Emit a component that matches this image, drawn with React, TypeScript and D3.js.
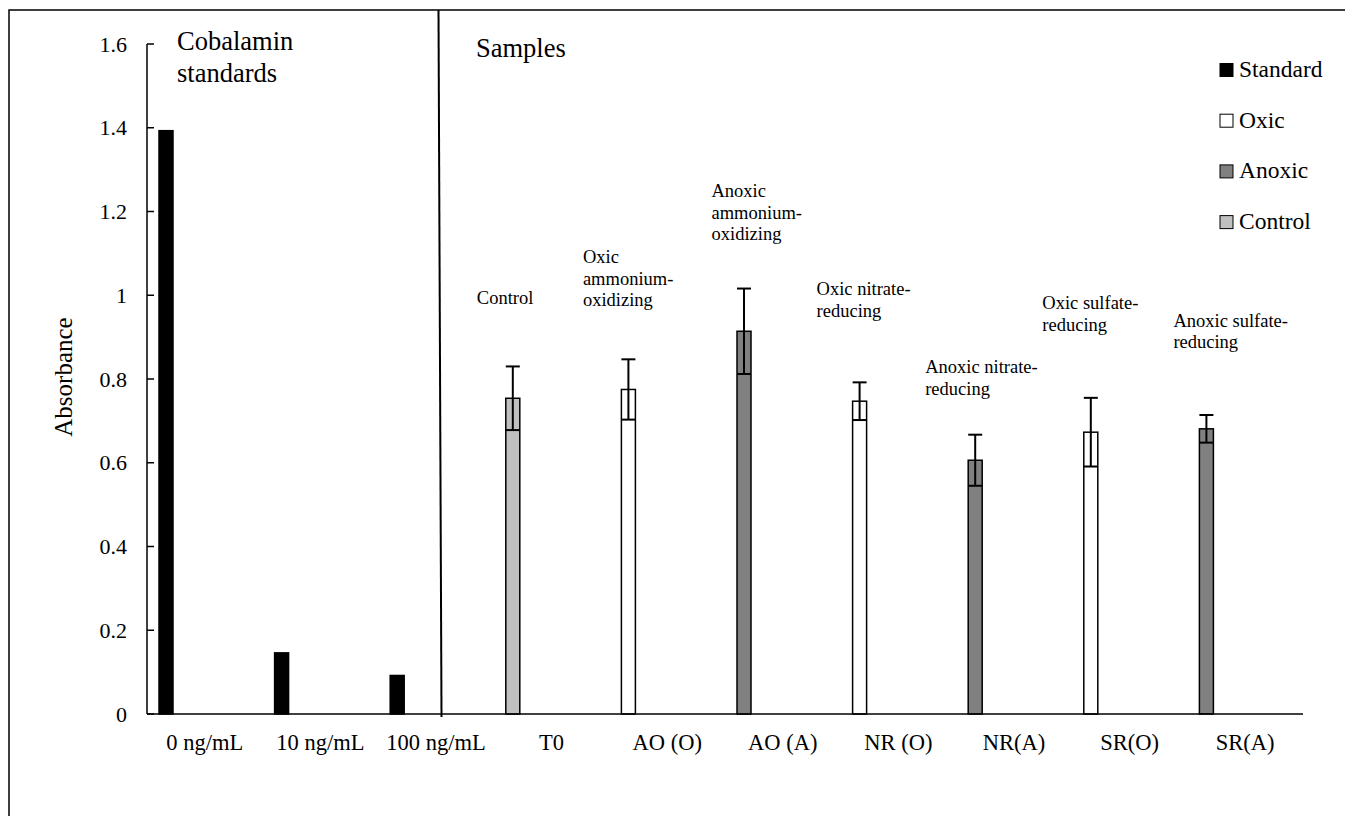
import React from "react";
import * as d3 from "d3";

const categories = ["0 ng/mL", "10 ng/mL", "100 ng/mL", "T0", "AO (O)", "AO (A)", "NR (O)", "NR(A)", "SR(O)", "SR(A)"];
const values = [1.393, 0.146, 0.092, 0.754, 0.775, 0.914, 0.747, 0.606, 0.673, 0.681];
const errors = [0, 0, 0, 0.076, 0.072, 0.102, 0.045, 0.061, 0.082, 0.033];
const groups = ["Standard", "Standard", "Standard", "Control", "Oxic", "Anoxic", "Oxic", "Anoxic", "Oxic", "Anoxic"];
const seriesNames = ["Standard", "Oxic", "Anoxic", "Control"];
const seriesColors = ["#000000", "#ffffff", "#808080", "#c0c0c0"];
const yTicks = [0, 0.2, 0.4, 0.6, 0.8, 1, 1.2, 1.4, 1.6];
const annotationCats = ["T0", "AO (O)", "AO (A)", "NR (O)", "NR(A)", "SR(O)", "SR(A)"];
const annotationLines = [
  ["Control"],
  ["Oxic", "ammonium-", "oxidizing"],
  ["Anoxic", "ammonium-", "oxidizing"],
  ["Oxic nitrate-", "reducing"],
  ["Anoxic nitrate-", "reducing"],
  ["Oxic sulfate-", "reducing"],
  ["Anoxic sulfate-", "reducing"],
];
// baseline of first annotation line, in data units (y value)
const annotationY = [0.98, 1.077, 1.235, 1.0, 0.814, 0.967, 0.925];
const annotationDx = [-36, -45.5, -32.5, -43, -50, -48.5, -33];

const FONT = "'Liberation Serif', 'Times New Roman', Times, serif";

function T(props: any) {
  const { children, ...rest } = props;
  return (
    <text {...rest} style={{ fontFamily: FONT }}>
      {children}
    </text>
  );
}

export default function App() {
  const x = d3.scaleBand<string>().domain(categories).range([147, 1303]).padding(0);
  const y = d3.scaleLinear().domain([0, 1.6]).range([714, 44]);
  const color = d3.scaleOrdinal<string, string>().domain(seriesNames).range(seriesColors);
  const barOffset = 12;
  const barW = 14;
  const lineH = 21.7;

  return (
    <svg width={1345} height={816} style={{ position: "absolute", left: 0, top: 0, background: "#fff", fontFamily: FONT }}>
      <rect x={9} y={10} width={1400} height={900} fill="#fff" stroke="#000" strokeWidth={1.5} />
      {/* divider */}
      <line x1={438.5} y1={10} x2={441.5} y2={717} stroke="#000" strokeWidth={2} />

      {/* y axis */}
      <line x1={147} y1={y(0)} x2={147} y2={y(1.6)} stroke="#000" strokeWidth={1.5} />
      {yTicks.map((t) => (
        <g key={t}>
          <line x1={147} x2={154} y1={y(t)} y2={y(t)} stroke="#000" strokeWidth={1.5} />
          <T x={127} y={y(t)} dy="0.35em" textAnchor="end" fontSize={22}>
            {d3.format("")(+t.toFixed(1))}
          </T>
        </g>
      ))}
      <T transform={`translate(72,377) rotate(-90)`} textAnchor="middle" fontSize={25}>
        Absorbance
      </T>

      {/* bars */}
      {categories.map((c, i) => {
        const bx = (x(c) as number) + barOffset;
        return (
          <rect
            key={c}
            x={bx}
            y={y(values[i])}
            width={barW}
            height={y(0) - y(values[i])}
            fill={color(groups[i])}
            stroke="#000"
            strokeWidth={1.5}
          />
        );
      })}
      {/* error bars */}
      {categories.map((c, i) => {
        if (!errors[i]) return null;
        const cx = (x(c) as number) + barOffset + barW / 2;
        const y1 = y(values[i] + errors[i]);
        const y2 = y(values[i] - errors[i]);
        return (
          <g key={c} stroke="#000" strokeWidth={2}>
            <line x1={cx} x2={cx} y1={y1} y2={y2} />
            <line x1={cx - barW / 2} x2={cx + barW / 2} y1={y1} y2={y1} />
            <line x1={cx - barW / 2} x2={cx + barW / 2} y1={y2} y2={y2} />
          </g>
        );
      })}

      {/* x axis */}
      <line x1={147} x2={1303} y1={y(0)} y2={y(0)} stroke="#000" strokeWidth={1.5} />
      {categories.map((c) => (
        <T key={c} x={(x(c) as number) + x.bandwidth() / 2} y={750} textAnchor="middle" fontSize={22.5}>
          {c}
        </T>
      ))}

      {/* annotations */}
      {annotationCats.map((cat, k) => {
        const ax = (x(cat) as number) + barOffset + barW / 2 + annotationDx[k];
        const ay = y(annotationY[k]);
        return (
          <T key={cat} x={ax} y={ay} fontSize={18.5}>
            {annotationLines[k].map((l, j) => (
              <tspan key={j} x={ax} y={ay + j * lineH}>
                {l}
              </tspan>
            ))}
          </T>
        );
      })}

      {/* titles */}
      <T x={177} y={50} fontSize={26.5}>Cobalamin</T>
      <T x={177} y={81.5} fontSize={26.5}>standards</T>
      <T x={476} y={57} fontSize={26.5}>Samples</T>

      {/* legend */}
      {seriesNames.map((s, i) => (
        <g key={s} transform={`translate(1220, ${77 + i * 50.7})`}>
          <rect x={0} y={-13.5} width={13} height={13} fill={color(s)} stroke="#000" strokeWidth={1} />
          <T x={19} y={0} fontSize={23.5}>{s}</T>
        </g>
      ))}
    </svg>
  );
}
